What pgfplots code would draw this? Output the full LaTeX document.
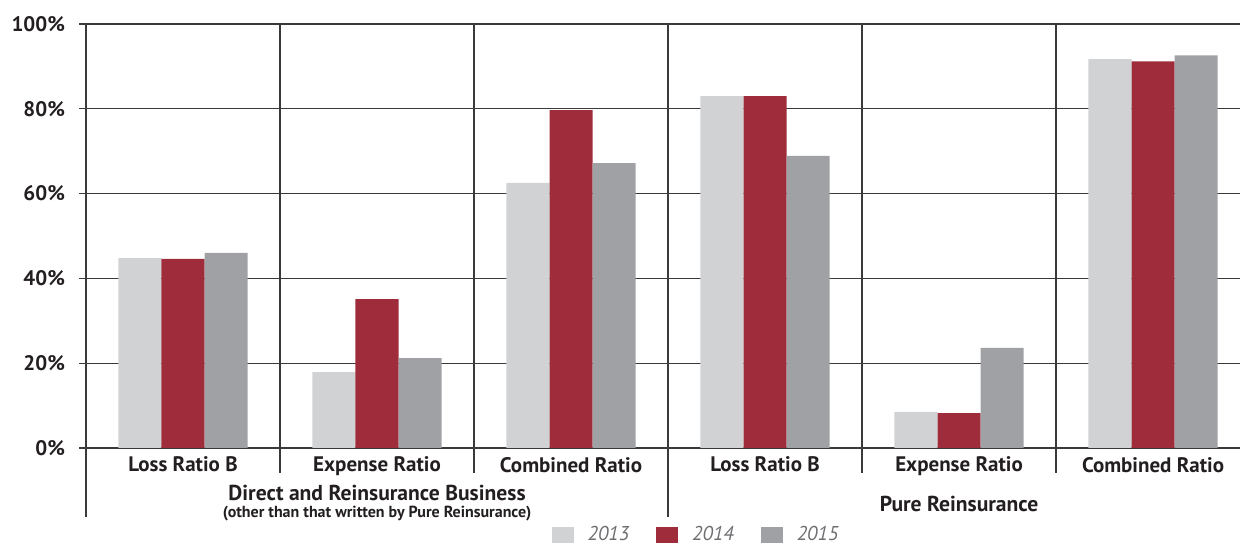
\documentclass[border=0pt]{standalone}
\usepackage{pgfplots}
\pgfplotsset{compat=1.18}
\usepackage{fontspec}
\setmainfont{PT Sans}
\definecolor{c13}{HTML}{D1D2D4}
\definecolor{c14}{HTML}{9E2C3A}
\definecolor{c15}{HTML}{A0A1A5}
\definecolor{txt}{HTML}{231F20}
\definecolor{grd}{HTML}{3A3A3A}
\definecolor{leg}{HTML}{6D6E71}
\begin{document}
\begin{tikzpicture}[x=0.5pt,y=0.5pt]
\begin{axis}[
  at={(0,0)}, anchor=south west,
  scale only axis, width=577pt, height=212pt,
  xmin=-0.5, xmax=5.448, ymin=0, ymax=100,
  axis x line*=bottom, axis y line*=left,
  axis line style={grd, line width=0.6pt},
  x axis line style={line width=1pt},
  ybar, bar width=0.222, bar shift auto,
  ybar=0pt,
  ytick={0,20,40,60,80,100},
  yticklabel={\pgfmathprintnumber{\tick}\%},
  ymajorgrids, grid style={grd, line width=0.6pt},
  tick align=outside, major tick length=3.5pt,
  ytick style={grd, line width=0.6pt},
  xtick={0,1,2,3,4,5}, xtick style={draw=none},
  xticklabels={Loss Ratio B, Expense Ratio, Combined Ratio, Loss Ratio B, Expense Ratio, Combined Ratio},
  ticklabel style={font=\bfseries\fontsize{10.5}{12}\selectfont, text=txt},
  xticklabel style={yshift=2.5pt},
  yticklabel style={xshift=-3.5pt},
  /pgf/number format/assume math mode=true,
  clip=false,
  legend style={draw=none, fill=none, at={(axis cs:1.9,0)}, anchor=north west, yshift=-37pt,
     legend columns=3, font=\itshape\fontsize{10}{11}\selectfont, text=leg,
     inner sep=0pt, outer sep=0pt,
     /tikz/every odd column/.append style={column sep=5pt},
     /tikz/every even column/.append style={column sep=11.5pt}},
  legend image code/.code={\fill[#1] (0,-4pt) rectangle (11pt,4pt);},
]
\addplot[draw=none, fill=c13] coordinates {(0,44.8) (1,17.9) (2,62.5) (3,83.0) (4,8.5) (5,91.7)};
\addplot[draw=none, fill=c14] coordinates {(0,44.6) (1,35.1) (2,79.7) (3,83.0) (4,8.2) (5,91.2)};
\addplot[draw=none, fill=c15] coordinates {(0,46.0) (1,21.2) (2,67.2) (3,68.9) (4,23.6) (5,92.6)};
\legend{2013,2014,2015}
\foreach \xx in {0.5,1.5,3.5,4.5} {
  \edef\tmp{\noexpand\draw[grd, line width=0.6pt] (axis cs:\xx,100) -- ([yshift=-12.5pt]axis cs:\xx,0);}\tmp
}
\foreach \xx in {-0.5,2.5} {
  \edef\tmp{\noexpand\draw[grd, line width=0.6pt] (axis cs:\xx,100) -- ([yshift=-34.5pt]axis cs:\xx,0);}\tmp
}
\node[font=\bfseries\fontsize{10.8}{12}\selectfont, text=txt] at ([yshift=-22.5pt]axis cs:1,0) {Direct and Reinsurance Business};
\node[font=\bfseries\fontsize{8}{9}\selectfont, text=txt] at ([yshift=-33pt]axis cs:1,0) {(other than that written by Pure Reinsurance)};
\node[font=\bfseries\fontsize{10.8}{12}\selectfont, text=txt] at ([yshift=-28pt]axis cs:4,0) {Pure Reinsurance};
\end{axis}
\pgfresetboundingbox
\path (-86,-96) rectangle (1154,448);
\end{tikzpicture}
\end{document}
